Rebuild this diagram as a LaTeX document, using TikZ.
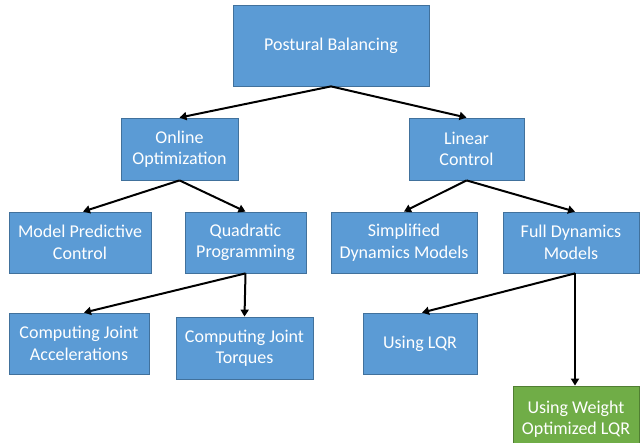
\documentclass[tikz,border=0pt]{standalone}
\usepackage{fontspec}
\setmainfont{Carlito}
\usetikzlibrary{positioning,arrows.meta}
\definecolor{boxBlue}{HTML}{5B9BD5}
\definecolor{boxBlueLine}{HTML}{41719C}
\definecolor{boxGreen}{HTML}{70AD47}
\definecolor{boxGreenLine}{HTML}{507E32}

\begin{document}
\begin{tikzpicture}[x=1pt, y=-1pt]
\tikzset{
    topicStyle/.style={rectangle, fill=boxBlue, draw=boxBlueLine, line width=0.8pt, text=white, align=center, inner sep=0pt, font=\fontsize{18}{21.5}\selectfont},
    resultStyle/.style={topicStyle, fill=boxGreen, draw=boxGreenLine},
    treeArrow/.style={-{Triangle[length=7pt, width=8pt]}, line width=2pt, black}
}
\useasboundingbox (0,0) rectangle (640,443);

\node[topicStyle, minimum width=196pt, minimum height=81pt] (balance) at (331,45.5) {Postural Balancing};

\node[topicStyle, minimum width=117pt, minimum height=62pt] (online) at (179.5,149) {Online\\Optimization};
\node[topicStyle, minimum width=115pt, minimum height=62pt] (linear) at (466.5,149) {Linear\\Control};

\node[topicStyle, minimum width=142pt, minimum height=61pt] (mpc) at (80,242.5) {Model Predictive\\Control};
\node[topicStyle, minimum width=121pt, minimum height=61pt] (qp) at (245.5,242.5) {Quadratic\\Programming};
\node[topicStyle, minimum width=146pt, minimum height=61pt] (simplified) at (404,242.5) {Simplified\\Dynamics Models};
\node[topicStyle, minimum width=136pt, minimum height=61pt] (fulldyn) at (571,242.5) {Full Dynamics\\Models};

\node[topicStyle, minimum width=140pt, minimum height=61pt] (accel) at (79,343.5) {Computing Joint\\Accelerations};
\node[topicStyle, minimum width=137pt, minimum height=62pt] (torques) at (244.5,348) {Computing Joint\\Torques};
\node[topicStyle, minimum width=114pt, minimum height=61pt] (lqr) at (420,343.5) {Using LQR};
\node[resultStyle, minimum width=126pt, minimum height=66pt] (weightlqr) at (576,419) {Using Weight\\Optimized LQR};


\draw[treeArrow] (balance.south) -- (online.north);
\draw[treeArrow] (balance.south) -- (linear.north);

\draw[treeArrow] (online.south) -- ([xshift=3pt]mpc.north);
\draw[treeArrow] (online.south) -- (qp.north);
\draw[treeArrow] (linear.south) -- (simplified.north);
\draw[treeArrow] (linear.south) -- ([xshift=4pt]fulldyn.north);

\draw[treeArrow] (qp.south) -- ([xshift=5pt]accel.north);
\draw[treeArrow] (qp.south) -- (torques.north);
\draw[treeArrow] ([xshift=4pt]fulldyn.south) -- ([xshift=2pt]lqr.north);
\draw[treeArrow] ([xshift=4pt]fulldyn.south) -- ([xshift=-1pt]weightlqr.north);

\end{tikzpicture}
\end{document}
